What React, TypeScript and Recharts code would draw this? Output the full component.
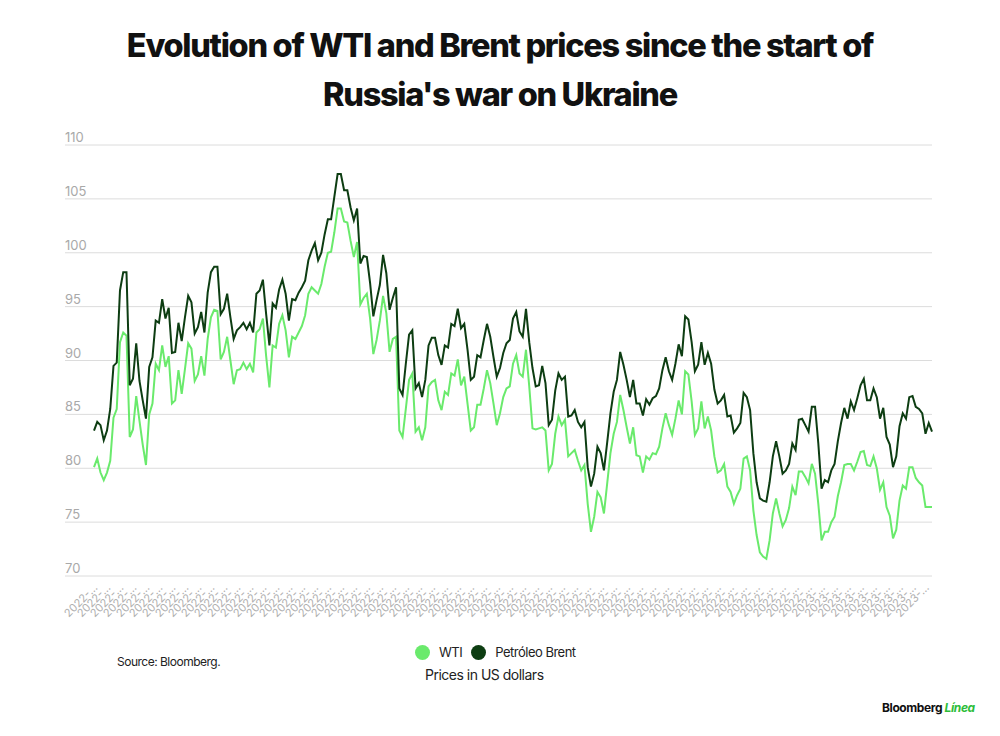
import React from "react";
import { LineChart, Line, XAxis, YAxis, CartesianGrid } from "recharts";

// Daily closes (USD per barrel)
const BRENT = [
  83.5, 84.3, 84.0, 82.6, 83.5, 85.5, 89.5, 89.8, 96.5, 98.2, 98.2, 87.7, 88.3, 91.6, 88.1, 86.3, 84.6, 89.4, 90.3, 93.7,
  93.5, 95.7, 93.9, 94.9, 90.7, 90.8, 93.5, 91.8, 94.0, 96.0, 95.4, 92.5, 93.1, 94.5, 92.6, 96.3, 98.2, 98.7, 98.7, 94.3,
  94.8, 96.2, 94.0, 92.0, 92.8, 93.1, 93.5, 92.9, 93.5, 92.6, 96.2, 96.5, 97.5, 94.3, 91.4, 95.3, 94.9, 96.6, 97.5, 96.2,
  93.7, 95.7, 95.6, 96.3, 96.8, 97.4, 99.3, 100.2, 100.9, 99.3, 100.0, 101.7, 103.1, 103.1, 105.2, 107.3, 107.3, 105.8, 105.8, 104.2,
  103.0, 104.1, 99.0, 99.7, 99.6, 97.2, 94.1, 95.6, 97.0, 99.8, 98.1, 94.7, 95.8, 96.8, 87.4, 86.8, 89.7, 92.4, 92.8, 87.4,
  87.9, 86.6, 88.2, 91.4, 92.1, 92.1, 90.5, 89.6, 91.4, 91.2, 93.4, 93.2, 94.8, 93.0, 93.4, 91.0, 88.2, 88.5, 90.5, 90.3,
  91.9, 93.4, 92.2, 90.3, 88.5, 89.3, 90.7, 91.6, 91.9, 93.9, 94.5, 92.7, 92.2, 94.8, 91.7, 89.3, 87.6, 87.7, 89.5, 87.9,
  84.0, 84.5, 87.2, 88.8, 88.2, 88.5, 84.8, 84.9, 85.4, 84.3, 83.8, 84.3, 80.1, 78.3, 79.5, 82.0, 81.4, 79.8, 82.4, 85.1,
  87.1, 88.2, 90.8, 89.6, 88.2, 86.6, 88.2, 86.0, 86.0, 84.9, 86.4, 85.9, 86.5, 86.7, 87.4, 89.1, 90.3, 89.0, 88.2, 89.7,
  91.5, 90.4, 94.1, 93.8, 91.7, 89.0, 89.6, 91.7, 89.6, 90.7, 89.7, 87.3, 86.0, 86.3, 86.8, 84.8, 84.9, 83.3, 83.7, 84.2,
  87.0, 86.6, 85.4, 81.4, 78.7, 77.2, 77.0, 76.9, 78.7, 81.1, 82.5, 81.1, 79.5, 79.8, 80.4, 82.3, 81.7, 84.5, 84.6, 84.0,
  83.4, 85.7, 85.7, 82.3, 78.1, 78.9, 78.7, 79.8, 80.4, 82.5, 84.2, 85.6, 84.6, 86.2, 85.4, 86.5, 87.7, 88.3, 86.3, 86.3,
  87.4, 86.6, 84.6, 85.6, 82.9, 82.2, 80.1, 81.1, 83.9, 85.1, 84.6, 86.6, 86.7, 85.7, 85.5, 85.1, 83.2, 84.2, 83.4,
];

const WTI = [
  80.1, 80.9, 79.6, 78.9, 79.6, 80.7, 84.7, 85.5, 91.7, 92.6, 92.3, 82.9, 83.6, 86.7, 84.4, 82.2, 80.3, 85.0, 86.0, 89.7,
  89.1, 91.4, 89.4, 90.4, 86.0, 86.3, 89.1, 86.9, 89.2, 91.6, 91.1, 88.1, 88.7, 90.4, 88.6, 92.0, 94.0, 94.7, 94.6, 90.1,
  90.8, 92.2, 90.0, 87.8, 89.1, 89.2, 89.8, 89.2, 89.7, 88.9, 92.6, 92.9, 93.9, 90.4, 87.5, 91.4, 91.2, 93.4, 94.2, 92.8,
  90.3, 92.2, 92.0, 92.6, 93.2, 94.2, 96.2, 96.8, 96.5, 96.2, 97.1, 98.7, 100.0, 100.1, 101.9, 104.1, 104.1, 102.9, 102.8, 101.1,
  99.6, 101.0, 95.2, 95.8, 96.2, 93.9, 90.6, 91.9, 93.7, 96.0, 94.4, 90.8, 92.0, 92.2, 83.5, 82.9, 85.5, 88.2, 88.8, 83.4,
  83.8, 82.6, 83.8, 87.6, 88.0, 88.2, 86.3, 85.4, 87.1, 86.8, 88.8, 88.6, 90.1, 87.7, 88.5, 86.0, 83.5, 83.8, 85.9, 85.9,
  87.4, 89.1, 87.9, 86.0, 84.0, 85.1, 86.6, 87.4, 87.6, 89.7, 90.5, 88.8, 88.5, 91.0, 87.6, 83.7, 83.6, 83.7, 83.8, 83.5,
  79.8, 80.4, 83.2, 84.8, 84.0, 84.5, 81.1, 81.4, 81.7, 80.7, 79.8, 80.3, 76.7, 74.1, 75.5, 77.8, 77.3, 75.8, 78.6, 81.4,
  83.2, 84.3, 86.8, 85.4, 83.8, 82.3, 83.8, 81.2, 81.1, 79.6, 81.1, 80.8, 81.4, 81.3, 82.0, 83.7, 85.1, 84.0, 83.1, 84.6,
  86.3, 85.0, 89.0, 88.7, 86.2, 83.1, 83.7, 86.2, 83.7, 84.8, 83.5, 81.1, 79.6, 79.8, 80.4, 78.3, 77.8, 76.7, 77.5, 78.1,
  80.9, 81.1, 79.8, 76.1, 73.8, 72.2, 71.8, 71.6, 73.3, 75.8, 77.2, 75.8, 74.6, 75.2, 76.3, 78.3, 77.5, 79.7, 79.7, 79.2,
  78.6, 80.4, 79.5, 76.7, 73.3, 74.1, 74.1, 75.0, 75.5, 77.4, 78.7, 80.3, 80.4, 80.4, 79.8, 80.6, 81.5, 81.6, 80.3, 80.2,
  81.1, 80.0, 78.0, 78.7, 76.4, 75.6, 73.5, 74.3, 77.0, 78.4, 78.1, 80.1, 80.1, 79.1, 78.7, 78.4, 76.4, 76.4, 76.4,
];

const Y_TICKS = [70, 75, 80, 85, 90, 95, 100, 105, 110];

// trading days from the invasion onwards
function tradingDays(n: number) {
  const out: string[] = [];
  const d = new Date(Date.UTC(2022, 1, 24));
  while (out.length < n) {
    const wd = d.getUTCDay();
    if (wd !== 0 && wd !== 6) out.push(d.toISOString().slice(0, 10));
    d.setUTCDate(d.getUTCDate() + 1);
  }
  return out;
}
const DATES = tradingDays(BRENT.length);

const data = DATES.map((date, i) => ({ date, wti: WTI[i], brent: BRENT[i] }));

const FONT = "Inter, 'Noto Sans', sans-serif";
const WTI_COLOR = "#6aea6c";
const BRENT_COLOR = "#0d3d12";

const YTick = (props: any) => {
  const { x, y, payload } = props;
  return (
    <text x={x} y={y - 3} fill="#a9a9a9" fontSize={13} fontFamily={FONT} textAnchor="start">
      {payload.value}
    </text>
  );
};

const XTick = (props: any) => {
  const { x, y, payload } = props;
  return (
    <g transform={`translate(${x},${y})`}>
      <text
        x={0}
        y={0}
        dy={6}
        textAnchor="end"
        transform="rotate(-45)"
        fill="#b0b0b0"
        fontSize={11}
        fontFamily={FONT}
      >
        {String(payload.value).slice(0, 5) + "..."}
      </text>
    </g>
  );
};

export default function App() {
  return (
    <div
      style={{
        position: "absolute",
        left: 0,
        top: 0,
        width: 1000,
        height: 736,
        background: "#fff",
        fontFamily: FONT,
        overflow: "hidden",
      }}
    >
      <div
        style={{
          position: "absolute",
          top: 21,
          left: 0,
          width: 1000,
          textAlign: "center",
          fontSize: 32.5,
          fontWeight: 800,
          letterSpacing: -1.3,
          lineHeight: "49px",
          color: "#111",
        }}
      >
        Evolution of WTI and Brent prices since the start of
        <br />
        Russia's war on Ukraine
      </div>

      <div style={{ position: "absolute", left: 0, top: 0 }}>
        <LineChart
          width={1000}
          height={640}
          data={data}
          margin={{ top: 145, right: 68, bottom: 0, left: 0 }}
        >
          <CartesianGrid vertical={false} stroke="#dcdcdc" strokeWidth={1} />
          <XAxis
            dataKey="date"
            interval={3}
            tick={<XTick />}
            tickLine={false}
            axisLine={false}
            height={64}
            padding={{ left: 29, right: 0 }}
          />
          <YAxis
            domain={[70, 110]}
            ticks={Y_TICKS}
            width={65}
            tick={<YTick />}
            tickLine={false}
            axisLine={false}
            tickSize={0}
            tickMargin={0}
          />
          <Line
            type="linear"
            dataKey="wti"
            stroke={WTI_COLOR}
            strokeWidth={2}
            dot={false}
            isAnimationActive={false}
          />
          <Line
            type="linear"
            dataKey="brent"
            stroke={BRENT_COLOR}
            strokeWidth={2}
            dot={false}
            isAnimationActive={false}
          />
        </LineChart>
      </div>

      <div
        style={{
          position: "absolute",
          left: 415,
          top: 644,
          display: "flex",
          alignItems: "center",
          fontSize: 13,
          color: "#222",
          letterSpacing: -0.5,
        }}
      >
        <span style={{ width: 15, height: 15, borderRadius: "50%", background: WTI_COLOR, display: "inline-block" }} />
        <span style={{ marginLeft: 9 }}>WTI</span>
        <span
          style={{
            width: 15,
            height: 15,
            borderRadius: "50%",
            background: BRENT_COLOR,
            display: "inline-block",
            marginLeft: 9,
          }}
        />
        <span style={{ marginLeft: 9 }}>Petróleo Brent</span>
      </div>
      <div
        style={{ position: "absolute", left: 425, top: 666, fontSize: 14, color: "#222", letterSpacing: -0.5 }}
      >
        Prices in US dollars
      </div>
      <div
        style={{ position: "absolute", left: 117, top: 654, fontSize: 12, color: "#222", letterSpacing: -0.5 }}
      >
        Source: Bloomberg.
      </div>
      <div
        style={{
          position: "absolute",
          left: 882,
          top: 700,
          fontSize: 12,
          fontWeight: 700,
          color: "#111",
          letterSpacing: -0.4,
        }}
      >
        Bloomberg <span style={{ color: "#2dbd3a", fontStyle: "italic" }}>Línea</span>
      </div>
    </div>
  );
}
